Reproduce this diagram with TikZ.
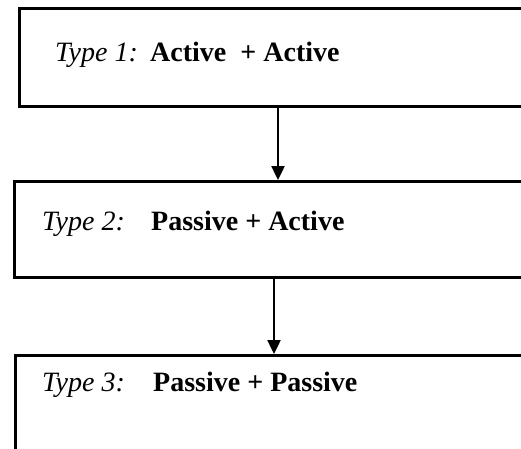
\documentclass[tikz,border=0pt]{standalone}
\usepackage{fontspec}
\setmainfont{Liberation Serif}
\usetikzlibrary{arrows.meta}
\begin{document}
\begin{tikzpicture}[x=1pt,y=-1pt,
  typebox/.style={draw,line width=2.8pt,minimum width=560pt,minimum height=#1,inner sep=0pt,anchor=north west},
  typelabel/.style={anchor=base west,inner sep=0pt,font=\fontsize{28}{34}\selectfont\itshape},
  combo/.style={anchor=base west,inner sep=0pt,font=\fontsize{28}{34}\selectfont\bfseries},
  flow/.style={line width=2.4pt,-{Triangle[width=13pt,length=14pt]}}]
\useasboundingbox (0,0) rectangle (521,448);
\clip (0,0) rectangle (521,448);
% the three stacked boxes (they run past the right edge; the last one past the bottom)
\node[typebox=98pt] (b1) at (18,7) {};
\node[typebox=96pt] (b2) at (13,180) {};
\node[typebox=120pt] (b3) at (14,354) {};
% labels
\node[typelabel] (t1) at (55,61) {Type 1:};
\node[combo] (c1) at (150,61) {Active~~+ Active};
\node[typelabel] (t2) at (42,230) {Type 2:};
\node[combo] (c2) at (151,230) {Passive + Active};
\node[typelabel] (t3) at (42,391) {Type 3:};
\node[combo] (c3) at (153,391) {Passive + Passive};
% connectors
\coordinate (a1) at (278,0);
\coordinate (a2) at (274,0);
\draw[flow] (b1.south -| a1) -- (b2.north -| a1);
\draw[flow] (b2.south -| a2) -- (b3.north -| a2);
\end{tikzpicture}
\end{document}
